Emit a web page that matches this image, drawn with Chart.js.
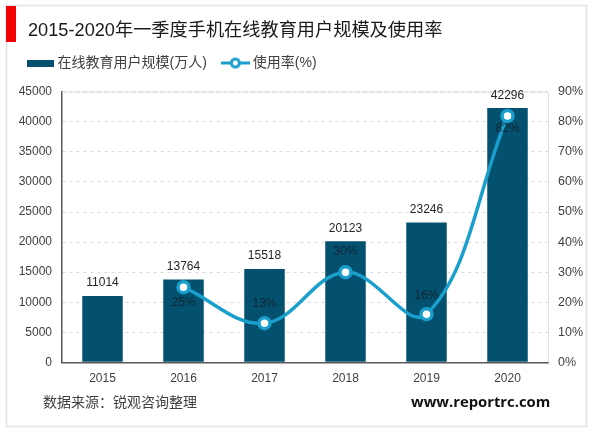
<!DOCTYPE html>
<html><head><meta charset="utf-8">
<script src="https://cdn.jsdelivr.net/npm/chart.js@4"></script>
<style>html,body{margin:0;padding:0;background:#fff}#w{position:relative;width:600px;height:433px}canvas{display:block}</style>
</head><body><div id="w"><canvas id="c" width="600" height="433"></canvas></div>
<script>
const categories = ['2015','2016','2017','2018','2019','2020'];
const users = [11014,13764,15518,20123,23246,42296];
const usageRate = [null,25,13,30,16,82];
const leftTicks = [0,5000,10000,15000,20000,25000,30000,35000,40000,45000];
const rightTicks = [0,10,20,30,40,50,60,70,80,90];
const titleText = '2015-2020年一季度手机在线教育用户规模及使用率';
const barName = '在线教育用户规模(万人)';
const lineName = '使用率(%)';
const sourceText = '数据来源：锐观咨询整理';
const siteText = 'www.reportrc.com';

const BAR='#03506f', LINE='#1a9fcc', TXT='#404040';
const SANS='"Liberation Sans","Noto Sans CJK SC",sans-serif';

function swatchBar(){const c=document.createElement('canvas');c.width=27;c.height=7;const x=c.getContext('2d');x.fillStyle=BAR;x.fillRect(0,0,27,7);return c;}
function swatchLine(){const c=document.createElement('canvas');c.width=29;c.height=13;const x=c.getContext('2d');
 x.strokeStyle=LINE;x.lineWidth=3;x.beginPath();x.moveTo(0,6.5);x.lineTo(29,6.5);x.stroke();
 x.fillStyle='#fff';x.beginPath();x.arc(14.5,6.5,4,0,Math.PI*2);x.fill();x.stroke();return c;}

const deco={id:'deco',
 afterLayout(ch){
  if(ch.titleBlock){ch.titleBlock.left=28;ch.titleBlock.right=560;ch.titleBlock.top=20;}
  if(ch.legend){const h=ch.legend.height;ch.legend.left=11.5;ch.legend.right=560;ch.legend.top=38;ch.legend.bottom=38+h;}
 },
 beforeDraw(ch){const g=ch.ctx;g.save();
  g.fillStyle='#fff';g.fillRect(0,0,600,433);
  g.strokeStyle='#e4e4e4';g.lineWidth=1.5;g.strokeRect(6.5,5.5,580,421);
  g.fillStyle='#f00000';g.fillRect(6,6,10,36);
  g.restore();},
 beforeDatasetsDraw(ch){const g=ch.ctx,a=ch.chartArea;g.save();
  g.strokeStyle='#e2e2e2';g.lineWidth=1;g.beginPath();
  g.moveTo(a.left,a.top+.5);g.lineTo(a.right+.5,a.top+.5);g.lineTo(a.right+.5,a.bottom);g.stroke();
  g.restore();},
 afterDatasetsDraw(ch){const g=ch.ctx,x=ch.scales.x,y=ch.scales.y,y1=ch.scales.y1;g.save();
  g.textAlign='center';g.textBaseline='middle';g.font='12px '+SANS;
  users.forEach((v,i)=>{g.fillStyle='#262626';g.fillText(String(v),x.getPixelForValue(i),y.getPixelForValue(v)-(i===5?12:13));});
  const off=[0,16,-20,-20,-19,13];
  usageRate.forEach((v,i)=>{if(v==null)return;g.fillStyle='rgba(20,30,40,.85)';g.fillText(v+'%',x.getPixelForValue(i),y1.getPixelForValue(v)+off[i]);});
  g.textAlign='left';g.fillStyle=TXT;g.font='14px "Noto Sans CJK SC",sans-serif';g.fillText(sourceText,43,402);
  g.fillStyle='#111';g.font='bold 14.8px "Open Sans",sans-serif';g.fillText(siteText,411,403);
  g.restore();}
};

new Chart(document.getElementById('c'),{
 type:'bar',
 plugins:[deco],
 data:{labels:categories,datasets:[
  {type:'bar',label:barName,data:users,yAxisID:'y',backgroundColor:BAR,barPercentage:0.5,categoryPercentage:1,order:2},
  {type:'line',label:lineName,data:usageRate,yAxisID:'y1',borderColor:LINE,borderWidth:3.5,tension:0.38,spanGaps:false,
   pointRadius:5.5,pointBorderWidth:3.5,pointBackgroundColor:'#fff',pointBorderColor:LINE,order:1}
 ]},
 options:{responsive:false,animation:false,
  layout:{padding:{top:28,left:0,right:0,bottom:0}},
  plugins:{
   tooltip:{enabled:false},
   title:{display:true,text:titleText,align:'start',padding:0,color:'#1a1a1a',font:{size:18.2,family:SANS,weight:'normal'}},
   legend:{display:true,position:'top',align:'start',
    labels:{usePointStyle:true,pointStyleWidth:21,boxHeight:13,padding:18,color:TXT,font:{size:14,family:SANS},
     generateLabels(){return [
      {text:barName,pointStyle:swatchBar(),fontColor:TXT,datasetIndex:0,lineWidth:0},
      {text:lineName,pointStyle:swatchLine(),fontColor:TXT,datasetIndex:1,lineWidth:0}];}}}
  },
  scales:{
   x:{grid:{display:false},border:{color:'#595959',width:1.5},ticks:{color:TXT,font:{size:12,family:SANS},padding:1,maxRotation:0},
      afterFit(s){s.height=70.7;}},
   y:{position:'left',min:0,max:45000,afterBuildTicks(s){s.ticks=leftTicks.map(v=>({value:v}));},
      grid:{color:'#d9d9d9',drawTicks:false},border:{color:'#595959',width:1.5,dash:[3,4]},
      ticks:{color:TXT,font:{size:12,family:SANS},padding:10,callback:v=>String(v)},afterFit(s){s.width=62;}},
   y1:{position:'right',min:0,max:90,afterBuildTicks(s){s.ticks=rightTicks.map(v=>({value:v}));},
      grid:{display:false},border:{display:false},
      ticks:{color:TXT,font:{size:12.5,family:SANS},padding:2,callback:v=>v+'%'},afterFit(s){s.width=52;}}
  }
 }
});
</script></body></html>
